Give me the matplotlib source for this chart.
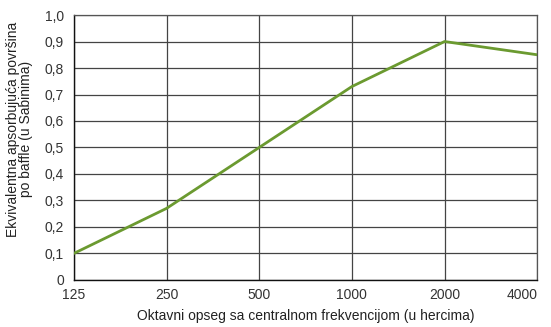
import matplotlib
matplotlib.use("Agg")
import matplotlib.pyplot as plt

# octave bands and equivalent absorption per baffle
bands = ["125", "250", "500", "1000", "2000", "4000"]
sabins = [0.10, 0.27, 0.50, 0.73, 0.90, 0.85]
yticks = [0.0, 0.1, 0.2, 0.3, 0.4, 0.5, 0.6, 0.7, 0.8, 0.9, 1.0]
ytick_labels = ["0", "0,1", "0,2", "0,3", "0,4", "0,5", "0,6", "0,7", "0,8", "0,9", "1,0"]

plt.rcParams["font.family"] = ["Liberation Sans", "DejaVu Sans"]

fig = plt.figure(figsize=(5.51, 3.27), dpi=100)
ax = fig.add_axes([0.134, 0.144, 0.841, 0.81])

x = list(range(len(bands)))
ax.plot(x, sabins, color="#6b9a30", linewidth=2.0, solid_joinstyle="round", zorder=3)

ax.set_xlim(0, len(bands) - 1)
ax.set_ylim(0, 1.0)
ax.set_xticks(x, bands)
ax.set_yticks(yticks, ytick_labels)
ax.grid(color="#444444", linewidth=0.9)
ax.tick_params(length=0, labelsize=10, labelcolor="#333333")
ax.tick_params(axis="x", pad=6)
ax.tick_params(axis="y", pad=7)
# keep the last band label inside the figure
ax.get_xticklabels()[-1].set_horizontalalignment("right")
for side in ["top", "right"]:
    ax.spines[side].set_color("#555555")
    ax.spines[side].set_linewidth(0.9)
for side in ["left", "bottom"]:
    ax.spines[side].set_color("#111111")
    ax.spines[side].set_linewidth(1.0)

ax.set_xlabel("Oktavni opseg sa centralnom frekvencijom (u hercima)",
              fontsize=10, color="#222222", labelpad=5)
ax.set_ylabel("Ekvivalentna apsorbujuća površina\npo baffle (u Sabinima)",
              fontsize=10, color="#222222", linespacing=0.95)
ax.yaxis.set_label_coords(-0.088, 0.57)

fig.savefig("out.png", dpi=100)
